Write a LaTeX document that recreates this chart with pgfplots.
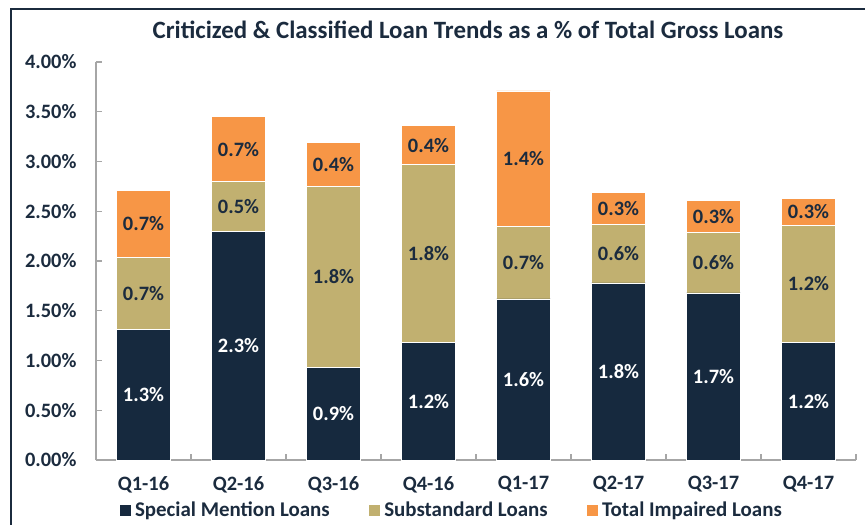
\documentclass[border=0pt]{standalone}
\usepackage{pgfplots}
\pgfplotsset{compat=1.18}
\usepackage{pgfplotstable}
\usepackage{fontspec}
\setmainfont{Carlito}

\definecolor{navy}{HTML}{16293E}
\definecolor{khaki}{HTML}{C1B070}
\definecolor{orng}{HTML}{F79646}
\definecolor{txt}{HTML}{1B2B3E}
\definecolor{axgray}{HTML}{A6A6A6}

% segment heights (% of total gross loans)
\pgfplotstableread{
x a    b    c
0 1.31 0.73 0.67
1 2.30 0.50 0.65
2 0.93 1.82 0.44
3 1.18 1.79 0.39
4 1.62 0.73 1.36
5 1.78 0.59 0.32
6 1.68 0.61 0.32
7 1.18 1.18 0.27
}\loandata

% label positions (segment middles) and printed labels
\pgfplotstableread{
x ya    la  yb    lb  yc    lc
0 0.655 1.3 1.675 0.7 2.375 0.7
1 1.150 2.3 2.550 0.5 3.125 0.7
2 0.465 0.9 1.840 1.8 2.970 0.4
3 0.590 1.2 2.075 1.8 3.165 0.4
4 0.810 1.6 1.985 0.7 3.030 1.4
5 0.890 1.8 2.075 0.6 2.530 0.3
6 0.840 1.7 1.985 0.6 2.450 0.3
7 0.590 1.2 1.770 1.2 2.495 0.3
}\labdata

\newcommand\lblfont{\bfseries\fontsize{20.5}{24}\selectfont}

\pgfplotsset{
  base/.style={
    scale only axis, width=760bp, height=398bp,
    xmin=-0.5, xmax=7.5, ymin=0, ymax=4,
  },
}

\begin{document}
\begin{tikzpicture}
\useasboundingbox (-96bp,-65bp) rectangle (769bp,460bp);
\draw[txt, line width=1.8bp] (-85bp,-70bp) -- (-85bp,451bp) -- (775bp,451bp);
\node[font=\bfseries\fontsize{25}{29}\selectfont, text=txt] at (372bp,430bp)
  {Criticized \& Classified Loan Trends as a \% of Total Gross Loans};

\begin{axis}[
  base,
  ybar stacked, bar width=54bp,
  axis x line*=bottom, axis y line*=left,
  axis line style={axgray, line width=1.2bp},
  xtick={0,...,7},
  xticklabels={Q1-16,Q2-16,Q3-16,Q4-16,Q1-17,Q2-17,Q3-17,Q4-17},
  major x tick style={draw=none},
  minor xtick={-0.5,0.5,...,7.5},
  ytick={0,0.5,...,4},
  tick align=inside,
  tick style={axgray, line width=1.2bp},
  major tick length=6bp, minor tick length=6bp,
  /pgf/number format/assume math mode=true,
  ticklabel style={font=\lblfont, text=txt},
  yticklabel={\pgfmathprintnumber[fixed,fixed zerofill,precision=2]{\tick}\%},
  yticklabel style={xshift=-16bp},
  xticklabel style={yshift=-13bp},
  legend columns=3,
  legend cell align=left,
  legend style={draw=none, fill=none, at={(0.466,-0.126)}, anchor=center,
    font=\bfseries\fontsize{21}{24}\selectfont, text=txt,
    nodes={inner sep=0pt},
    /tikz/every odd column/.append style={column sep=4bp},
    /tikz/every even column/.append style={column sep=38bp}},
  legend image code/.code={\fill[#1] (0bp,-6bp) rectangle (12bp,6bp);},
]
\addplot[fill=navy, draw=white, line width=0.5bp] table[x=x, y=a] {\loandata};
\addlegendentry{Special Mention Loans}
\addplot[fill=khaki, draw=white, line width=0.5bp] table[x=x, y=b] {\loandata};
\addlegendentry{Substandard Loans}
\addplot[fill=orng, draw=white, line width=0.5bp] table[x=x, y=c] {\loandata};
\addlegendentry{Total Impaired Loans}
\end{axis}

\begin{axis}[
  base, hide axis,
  nodes near coords={\pgfplotspointmeta\%},
  point meta=explicit symbolic,
  every node near coord/.append style={anchor=center, font=\lblfont},
]
\addplot[draw=none, nodes near coords style={text=white}] table[x=x, y=ya, meta=la] {\labdata};
\addplot[draw=none, nodes near coords style={text=txt}] table[x=x, y=yb, meta=lb] {\labdata};
\addplot[draw=none, nodes near coords style={text=txt}] table[x=x, y=yc, meta=lc] {\labdata};
\end{axis}
\end{tikzpicture}
\end{document}
